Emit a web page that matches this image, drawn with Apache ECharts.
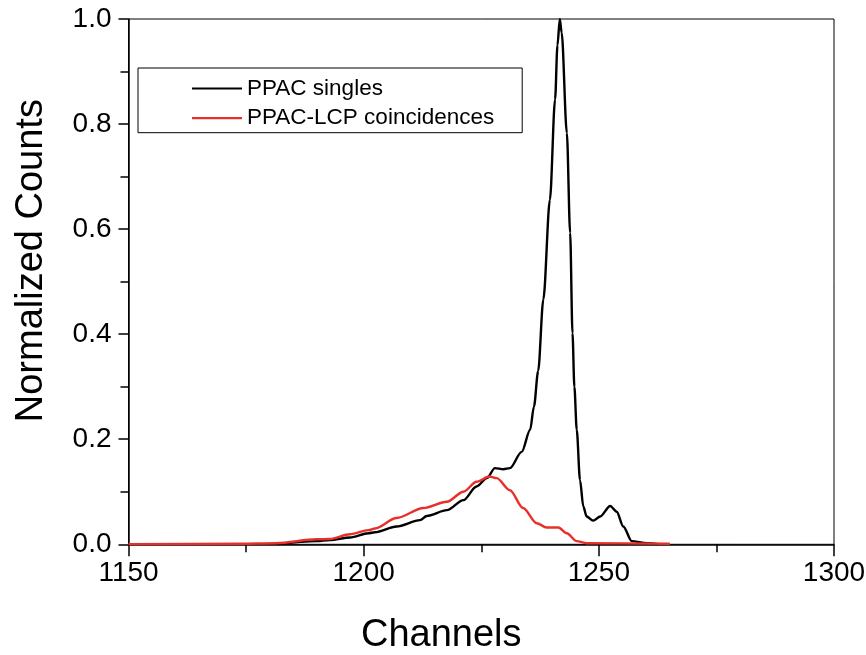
<!DOCTYPE html>
<html>
<head>
<meta charset="utf-8">
<script src="https://cdn.jsdelivr.net/npm/echarts@6/dist/echarts.min.js"></script>
<style>html,body{margin:0;padding:0;background:#fff;}#chart{width:866px;height:655px;}</style>
</head>
<body>
<div id="chart"></div>
<script>
// PPAC singles
const singlesChannels = [1181.5,1190.0,1192.8,1197.1,1201.0,1202.4,1207.0,1212.0,1213.4,1217.7,1221.2,1224.0,1226.2,1227.9,1229.7,1231.1,1233.6,1235.4,1236.2,1237.1,1238.2,1239.6,1240.7,1241.2,1241.7,1242.1,1243.2,1243.9,1244.4,1244.8,1245.3,1246.0,1246.7,1247.4,1248.8,1250.3,1252.4,1253.8,1255.2,1257.0,1260.2,1262.6];
const singlesCounts   = [0.0,0.006,0.008,0.013,0.021,0.023,0.034,0.046,0.054,0.065,0.084,0.110,0.126,0.145,0.143,0.145,0.176,0.218,0.262,0.330,0.466,0.656,0.847,0.950,1.0,0.974,0.783,0.593,0.402,0.300,0.218,0.122,0.072,0.053,0.045,0.053,0.073,0.062,0.034,0.006,0.002,0.0];
// PPAC-LCP coincidences
const coincChannels = [1150,1173.7,1181.5,1190.0,1192.8,1197.1,1201.0,1202.4,1207.0,1212.7,1217.7,1221.2,1224.0,1226.7,1228.3,1231.1,1233.9,1236.8,1238.9,1241.4,1243.2,1245.3,1247.4,1265.1];
const coincCounts   = [0.0,0.001,0.002,0.0095,0.010,0.019,0.027,0.030,0.050,0.069,0.081,0.100,0.119,0.129,0.126,0.103,0.069,0.040,0.032,0.032,0.021,0.006,0.002,0.001];
const xTicks = [1150,1200,1250,1300];
const yTicks = [0.0,0.2,0.4,0.6,0.8,1.0];

const zip = (a,b) => a.map((v,i)=>[v,b[i]]);
const chart = echarts.init(document.getElementById('chart'), null, {renderer:'canvas'});
const FONT = 'Liberation Sans, Arial, sans-serif';
chart.setOption({
  animation:false,
  backgroundColor:'#fff',
  grid:{left:128.5,right:32,top:19,bottom:110.7,show:true,borderColor:'#000',borderWidth:1,containLabel:false,outerBoundsMode:'none'},
  legend:{
    orient:'vertical',left:138,top:68,
    padding:[9,28,3,54],itemGap:6.7,itemWidth:50,itemHeight:2.2,icon:'rect',
    borderColor:'#000',borderWidth:1,
    textStyle:{fontFamily:FONT,fontSize:22.5,color:'#000',lineHeight:20},
    data:['PPAC singles','PPAC-LCP coincidences']
  },
  xAxis:{
    type:'value',min:xTicks[0],max:xTicks[xTicks.length-1],interval:50,
    name:'Channels',nameLocation:'middle',nameGap:72,
    nameTextStyle:{fontFamily:FONT,fontSize:38,color:'#000',padding:[0,80,0,0]},
    axisLine:{lineStyle:{color:'#000',width:1.5}},
    axisTick:{show:true,inside:false,length:12,lineStyle:{color:'#000',width:1.5}},
    minorTick:{show:true,splitNumber:2,length:8,lineStyle:{color:'#000',width:1.5}},
    axisLabel:{fontFamily:FONT,fontSize:28,color:'#000',margin:15,formatter:v=>String(v)},
    splitLine:{show:false}
  },
  yAxis:{
    type:'value',min:yTicks[0],max:yTicks[yTicks.length-1],interval:0.2,
    name:'Normalized Counts',nameLocation:'middle',nameGap:78,
    nameTextStyle:{fontFamily:FONT,fontSize:38,color:'#000',padding:[0,0,0,42]},
    axisLine:{show:true,lineStyle:{color:'#000',width:1.5}},
    axisTick:{show:true,inside:false,length:10,lineStyle:{color:'#000',width:1.5}},
    minorTick:{show:true,splitNumber:2,length:8,lineStyle:{color:'#000',width:1.5}},
    axisLabel:{fontFamily:FONT,fontSize:28,color:'#000',margin:17,formatter:v=>v.toFixed(1)},
    splitLine:{show:false}
  },
  series:[
    {name:'PPAC singles',type:'line',data:zip(singlesChannels,singlesCounts),symbol:'none',
     smooth:0.3,smoothMonotone:'x',lineStyle:{color:'#000',width:2.4},itemStyle:{color:'#000'},z:3},
    {name:'PPAC-LCP coincidences',type:'line',data:zip(coincChannels,coincCounts),symbol:'none',
     smooth:0.3,smoothMonotone:'x',lineStyle:{color:'#e8302a',width:2.4},itemStyle:{color:'#e8302a'},z:4}
  ]
});
</script>
</body>
</html>
